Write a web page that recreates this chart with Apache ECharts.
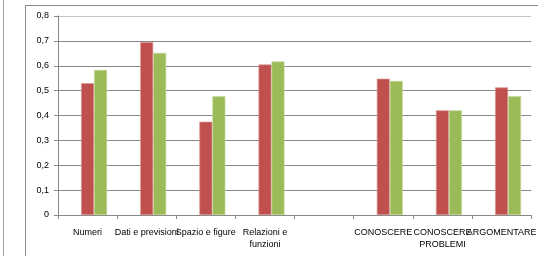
<!DOCTYPE html>
<html>
<head>
<meta charset="utf-8">
<script src="https://cdn.jsdelivr.net/npm/echarts@6/dist/echarts.min.js"></script>
<style>html,body{margin:0;padding:0;background:#fff}#c{width:539px;height:256px}</style>
</head>
<body>
<div id="c"></div>
<script>
var categories = ['Numeri', 'Dati e previsioni', 'Spazio e figure', 'Relazioni e\nfunzioni', '', 'CONOSCERE', 'CONOSCERE\nPROBLEMI', 'ARGOMENTARE'];
var seriesBlank = [null, null, null, null, null, null, null, null];
var seriesRed = [0.53, 0.695, 0.375, 0.605, null, 0.548, 0.421, 0.513];
var seriesGreen = [0.583, 0.652, 0.478, 0.617, null, 0.539, 0.421, 0.478];
var yTicks = { min: 0, max: 0.8, interval: 0.1 };

var chart = echarts.init(document.getElementById('c'), null, { renderer: 'canvas' });
var font = 'Liberation Sans';
chart.setOption({
  animation: false,
  backgroundColor: '#fff',
  graphic: [
    { type: 'line', shape: { x1: 3.5, y1: 0, x2: 3.5, y2: 256 }, style: { stroke: '#a0a0a0', lineWidth: 1 } },
    { type: 'line', shape: { x1: 25.5, y1: 5, x2: 25.5, y2: 256 }, style: { stroke: '#8c8c8c', lineWidth: 1 } },
    { type: 'line', shape: { x1: 25, y1: 5.5, x2: 538, y2: 5.5 }, style: { stroke: '#8c8c8c', lineWidth: 1 } }
  ],
  grid: { left: 58, top: 16, width: 481, height: 199, containLabel: false },
  xAxis: {
    type: 'category',
    data: categories,
    axisLine: { lineStyle: { color: '#888', width: 1 } },
    axisTick: { show: true, length: 4, alignWithLabel: false, lineStyle: { color: '#888' } },
    axisLabel: { interval: 0, color: '#000', fontFamily: font, fontSize: 9, margin: 12, lineHeight: 12 }
  },
  yAxis: {
    type: 'value',
    min: yTicks.min, max: yTicks.max, interval: yTicks.interval,
    axisLine: { show: true, lineStyle: { color: '#888', width: 1 } },
    axisTick: { show: true, length: 4, lineStyle: { color: '#888' } },
    axisLabel: { color: '#000', fontFamily: font, fontSize: 9, margin: 9,
      formatter: function (v) { return (Math.round(v * 10) / 10).toString().replace('.', ','); } },
    splitLine: { show: true, lineStyle: { color: ['#888', '#888', '#888', '#888', '#888', '#888', '#888', '#888', '#c4c4c4'], width: 1 } }
  },
  series: [
    { type: 'bar', data: seriesBlank, barWidth: 13, barGap: '0%', barCategoryGap: '35%', itemStyle: { color: '#4F81BD' } },
    { type: 'bar', data: seriesRed, barWidth: 13, barGap: '0%', itemStyle: { color: '#C0504D', borderColor: '#DA9694', borderWidth: 0.7 } },
    { type: 'bar', data: seriesGreen, barWidth: 13, barGap: '0%', itemStyle: { color: '#9BBB59', borderColor: '#C4D79B', borderWidth: 0.7 } }
  ]
});
</script>
</body>
</html>
